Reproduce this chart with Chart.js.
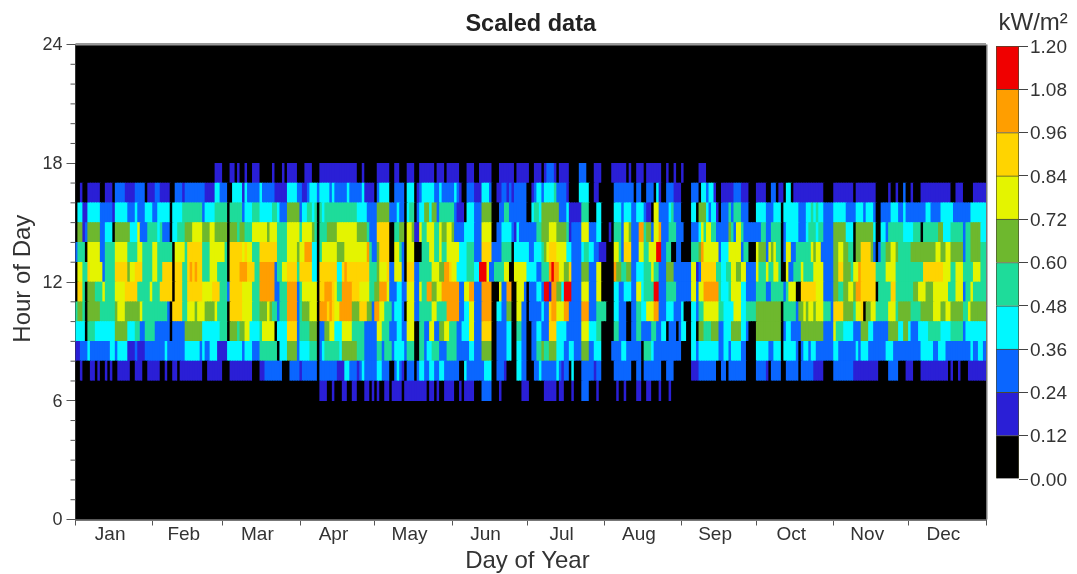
<!DOCTYPE html>
<html>
<head>
<meta charset="utf-8">
<script src="https://cdn.jsdelivr.net/npm/chart.js@4"></script>
<style>
body { margin: 0; background: #fff; }
canvas { position: absolute; top: 0; }
#chart { left: 0; filter: blur(0.6px); }
#bar { left: 985px; filter: blur(0.4px); }
</style>
</head>
<body>
<canvas id="chart" width="1077" height="574"></canvas>
<canvas id="bar" width="92" height="574"></canvas>
<script>
// colour band of every day, ten days per group
let hour06 = '0000000000 0000000000 0000000000 0000000000 0000000000 0000000000 0000000000 0000000000 0000000000 0000000011 1001000110 0110001101 0100110111 1011111111 1011010011 1100101111 0002222000 1000000001 1100000011 1110110001 0002220001 0000000100 1000011001 1000100010 0000000000 0000000000 0000000000 0000000000 0000000000 0000000000 0000000000 0000000000 0000000000 0000000000 0000000000 0000000000 00000'
let hour07 = '0010001101 0010100111 1100111001 1111001001 1011111111 1001111110 0011111111 1000112222 2220002222 1222222022 2222211133 2221232222 2332220023 2102220233 2233223322 2222003222 2222333002 2210000332 2000223222 2223212203 0002222212 2000002222 2220022022 2222200222 0000000111 2222222002 2022222220 0002222102 2220022222 0222221111 0000222222 2211111111 1100002222 0001110001 1111111111 0100100011 11111'
let hour08 = '1122232222 2222332333 3111211122 2222223222 2222333333 2322333111 1333333233 3222444444 4033355552 3333444023 4444443555 5554442222 2442444233 3324440044 2334442224 4442222233 2225555002 2223300332 2002244544 5553332233 2225552233 3000022223 3222222044 4322222222 2220000332 3333333322 3323333220 0003333322 3330333332 0233233222 2222332222 2223233322 2222233322 2222222223 3333223332 2222222223 22332'
let hour09 = '3333044433 3333335555 5333442244 4422222202 2222555555 5333333344 4055545566 3333466666 0333377772 4444555022 5566333666 6444442222 2664442223 3226660044 2266225566 4442233366 2227777002 2223300442 2002233222 7773333222 2226663334 4000004422 2002244222 2442233022 2023300330 5544455522 3335555332 0005555555 5550233222 2555555555 2222644433 3322255533 2222225555 3355322233 3344444333 3444442333 33333'
let hour10 = '4554055555 4444445666 5555556444 4444444207 7774466656 6655556444 4077777666 6444555654 4244488882 4555666088 8787668888 8555777552 8866444233 3206662244 4446644448 8888223366 2228888003 3225500662 2022222322 7886668822 2228882224 4440003322 2002244336 6688222333 2223000332 4466666644 3333666334 4445555555 5550444442 5565665666 4442777755 5546670556 6444446664 5555544445 5555666556 6555554465 55555'
let hour11 = '0774055544 4644446666 7777744444 6444777770 7774477777 7666677744 4277777666 6444888888 2244488882 4666666077 8887644888 8777666644 5588862223 3226662264 4885566888 8888226688 2228888000 6228800666 2022233299 1885539992 2226662226 6000003322 3332266344 4499222444 4222222662 6688888843 3346666332 2224444224 4444246660 0777777666 2222554455 6658877777 7044444774 4444445566 6555666666 4446662446 44444'
let hour12 = '0664476666 6244447777 7566777444 4664477770 7774478787 7444666444 4077778887 7744888888 2446677774 7777733077 7777733787 7777777744 4566672266 6207772244 4446665588 7663333444 3399962244 4466006666 6333322444 8988665572 2225552226 6000008554 4552233344 4644222555 2222222661 2777777443 3446655662 2226444644 6640062244 4644446666 2222557755 5466877777 7444466664 4444444444 7777777766 6446664444 66644'
let hour13 = '2444066666 2244446666 6444466444 4664444440 6666477777 7444666666 4077777676 6444777777 7444466665 6688833046 6666655566 6666666842 2577770066 4206660004 4466446446 6666333444 2227777222 2444403333 3322333456 7776666332 2223443322 1110006642 7772226644 6669922440 0220000444 5866666623 3366666244 0006555265 6440266224 4444465662 2222556655 4405577775 2024455665 4444455555 5555566556 6555552445 55544'
let hour14 = '0551255555 2233305555 5533362224 4443422203 3444555666 6555665555 5055545544 4666666566 6444466666 4666654044 4555566666 6665555422 2777770044 5506651164 4666446556 6522223333 2226666002 2333321322 2222244555 6665555412 2226662223 3000104442 6652228845 5266822244 4222000222 3646644222 2254266422 2222244224 4440233333 2223444344 2222555553 3305555555 3003324444 4433334440 4444445533 3444442445 55533'
let hour15 = '0331133333 2222213333 3222322233 3223333303 3334444444 4233334444 4044444233 3444333334 4322255555 2334434043 4444444444 4443333222 2555552223 2203440233 5535524444 4421110333 2225555000 2244222222 2003443555 5555222311 1114440003 3000003332 3332233321 1066222234 2220000330 5553233102 2242444222 0003333222 3330333333 2223343433 2222333332 2223332333 2002222333 2232222222 2332222333 3322222223 33333'
let hour16 = '0010011111 0011102222 1111222201 1122111100 2221222222 2211113322 2003333132 2222322222 1111133332 2112333233 3323222223 2222231111 0233330022 2203330123 3333223222 2232100222 1113332001 1221212222 2001233233 3342222100 0033330011 0000002222 2222022002 2203100222 1110000222 0332331001 1111222111 0001111002 2011033011 1111111111 0000111111 1101111111 1000001001 0020010001 1111111111 1001110000 11111'
let hour17 = '0000000000 0000000000 0000000000 0000000000 0000000000 0000001110 0011010010 0111000001 0001011110 0011100011 1111111111 1110010000 0111110011 0001110011 1111011101 1111000111 0011111000 1111110111 1100111012 2210111100 0022200011 1000011111 1010011101 1111100100 1001000000 1110000000 0000000000 0000000000 0000000000 0000000000 0000000000 0000000000 0000000000 0000000000 0000000000 0000000000 00000'

let hourRows = [hour06, hour07, hour08, hour09, hour10, hour11, hour12, hour13, hour14, hour15, hour16, hour17]
let firstHour = 6

let months = ['Jan', 'Feb', 'Mar', 'Apr', 'May', 'Jun', 'Jul', 'Aug', 'Sep', 'Oct', 'Nov', 'Dec']
let monthEdges = [0, 31, 59, 90, 120, 151, 181, 212, 243, 273, 304, 334, 365]
let hourLabels = [0, 6, 12, 18, 24]

let bandEdges = [0, 0.12, 0.24, 0.36, 0.48, 0.60, 0.72, 0.84, 0.96, 1.08, 1.20]
let bandColors = ['#000000', '#2a1fd6', '#0a66ff', '#00f8ff', '#1edc9a', '#6eb82e', '#e4f400', '#ffd400', '#ff9e00', '#f00000']

let textColor = '#333'
let fontName = '"Liberation Sans", Arial, sans-serif'

let heatSets = hourRows.map(function (row, i) {
    let days = row.replace(/ /g, '').split('').map(Number)
    return {
        data: days.map(function (band, d) {
            return {x: d + 0.5, y: [firstHour + i, firstHour + i + 1]}
        }),
        backgroundColor: days.map(function (band) {
            return bandColors[band]
        }),
        barThickness: 3
    }
})

let monthMids = months.map(function (m, i) {
    return (monthEdges[i] + monthEdges[i + 1]) / 2
})

// black plot area, grey frame and the short hour ticks
let framePlugin = {
    id: 'frame',
    beforeDatasetsDraw(chart) {
        let a = chart.chartArea
        chart.ctx.fillStyle = '#000'
        chart.ctx.fillRect(a.left, a.top, a.width, a.height)
    },
    afterDraw(chart) {
        let a = chart.chartArea
        let c = chart.ctx
        c.fillStyle = '#999'
        c.fillRect(a.left, a.top - 1.5, a.width, 2.5)
        c.fillStyle = '#777'
        c.fillRect(a.right, a.top, 1.5, a.height)
        c.fillRect(a.left, a.bottom, a.width, 1.5)
        c.fillStyle = '#555'
        for (let h = 0; h <= 24; h++) {
            if (h % 6 !== 0) {
                c.fillRect(a.left - 5, chart.scales.y.getPixelForValue(h) - 0.5, 5, 1)
            }
        }
    }
}

new Chart(document.querySelector('#chart'), {
    type: 'bar',
    data: {datasets: heatSets},
    plugins: [framePlugin],
    options: {
        responsive: false,
        animation: false,
        layout: {padding: {right: 91}},
        datasets: {bar: {barPercentage: 1, categoryPercentage: 1}},
        plugins: {
            legend: {display: false},
            tooltip: {enabled: false},
            title: {
                display: true,
                text: 'Scaled data',
                fullSize: false,
                color: '#222',
                font: {family: fontName, size: 23.5, weight: 'bold'},
                padding: {top: 10.5, bottom: 5.8}
            }
        },
        scales: {
            x: {
                type: 'linear',
                stacked: true,
                offset: false,
                min: 0,
                max: 365,
                afterFit(scale) {
                    scale.height = 54.5
                },
                afterBuildTicks(scale) {
                    scale.ticks = monthEdges.concat(monthMids).sort(function (a, b) {
                        return a - b
                    }).map(function (v) {
                        return {value: v}
                    })
                },
                border: {color: '#777', width: 1},
                grid: {
                    offset: false,
                    drawOnChartArea: false,
                    tickLength: 6,
                    tickColor(ctx) {
                        return ctx.tick && monthMids.includes(ctx.tick.value) ? 'transparent' : '#555'
                    }
                },
                ticks: {
                    autoSkip: false,
                    maxRotation: 0,
                    padding: -2,
                    labelOffset: -4,
                    color: textColor,
                    font: {family: fontName, size: 19},
                    callback(v) {
                        let i = monthMids.indexOf(v)
                        return i < 0 ? '' : months[i]
                    }
                },
                title: {
                    display: true,
                    text: 'Day of Year ',
                    color: textColor,
                    font: {family: fontName, size: 24},
                    padding: {top: 0, bottom: -1.5}
                }
            },
            y: {
                stacked: false,
                min: 0,
                max: 24,
                afterFit(scale) {
                    scale.width = 75.5
                },
                afterBuildTicks(scale) {
                    scale.ticks = hourLabels.map(function (v) {
                        return {value: v}
                    })
                },
                border: {color: '#666', width: 1},
                grid: {drawOnChartArea: false, tickLength: 9, tickColor: '#555'},
                ticks: {
                    padding: 4,
                    labelOffset: 1,
                    color: textColor,
                    font: {family: fontName, size: 18}
                },
                title: {
                    display: true,
                    text: ' Hour of Day',
                    color: textColor,
                    font: {family: fontName, size: 24},
                    padding: {top: 9, bottom: 0}
                }
            }
        }
    }
})

// colour key, one stacked segment per band
let keySets = bandColors.map(function (color, i) {
    return {
        data: [bandEdges[i + 1] - bandEdges[i]],
        backgroundColor: color,
        borderColor: '#4a4a30',
        borderWidth: 1,
        barPercentage: 1,
        categoryPercentage: 1
    }
})

new Chart(document.querySelector('#bar'), {
    type: 'bar',
    data: {labels: ['kW/m²'], datasets: keySets},
    options: {
        responsive: false,
        animation: false,
        layout: {padding: {left: 11, bottom: 95}},
        plugins: {
            legend: {display: false},
            tooltip: {enabled: false},
            title: {
                display: true,
                text: 'kW/m² ',
                color: textColor,
                font: {family: fontName, size: 24, weight: 'normal'},
                padding: {top: 9, bottom: 8.2}
            }
        },
        scales: {
            x: {stacked: true, display: false},
            y: {
                stacked: true,
                position: 'right',
                min: 0,
                max: 1.2,
                afterFit(scale) {
                    scale.width = 58
                },
                afterBuildTicks(scale) {
                    scale.ticks = bandEdges.map(function (v) {
                        return {value: v}
                    })
                },
                border: {display: false},
                grid: {drawOnChartArea: false, tickLength: 9, tickColor: '#444'},
                ticks: {
                    padding: 2,
                    labelOffset: 1.5,
                    color: textColor,
                    font: {family: fontName, size: 19},
                    callback(v) {
                        return v.toFixed(2)
                    }
                }
            }
        }
    }
})
</script>
</body>
</html>
